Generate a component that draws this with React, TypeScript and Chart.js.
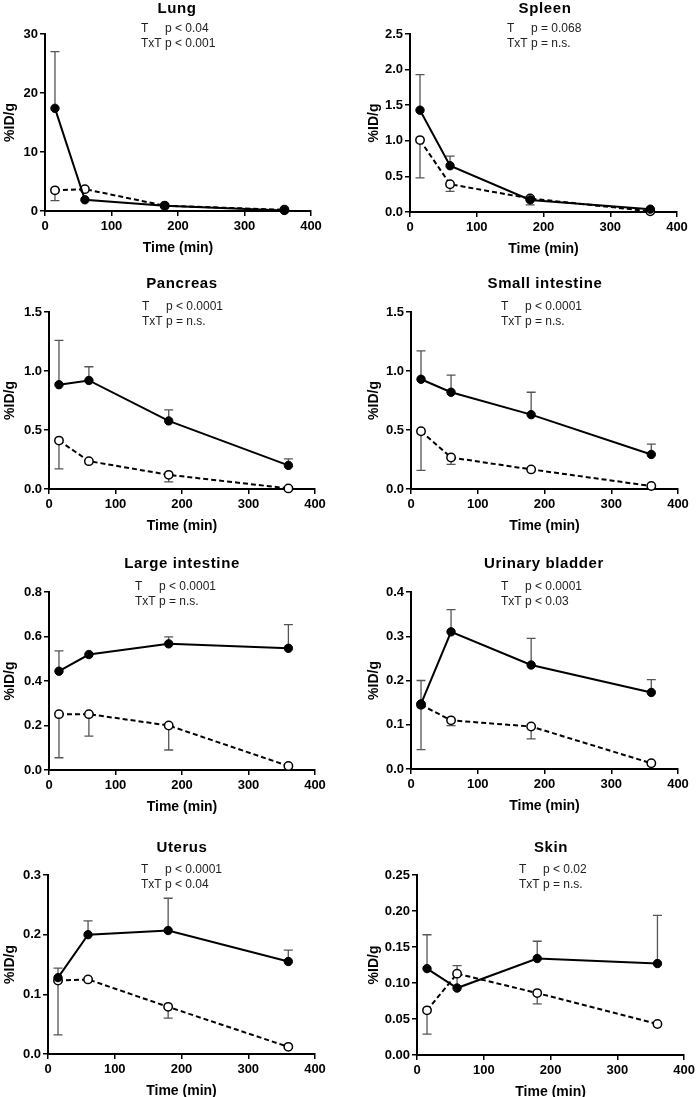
import React, { useEffect, useRef } from "react";
import { Chart, registerables } from "chart.js";

Chart.register(...registerables);

// ---------- DATA ----------
const timeMin = [15, 60, 180, 360];
const xTickValues = [0, 100, 200, 300, 400];

const organNames = [
  "Lung",
  "Spleen",
  "Pancreas",
  "Small intestine",
  "Large intestine",
  "Urinary bladder",
  "Uterus",
  "Skin",
];
const statsT = ["p < 0.04", "p = 0.068", "p < 0.0001", "p < 0.0001", "p < 0.0001", "p < 0.0001", "p < 0.0001", "p < 0.02"];
const statsTxT = ["p < 0.001", "p = n.s.", "p = n.s.", "p = n.s.", "p = n.s.", "p < 0.03", "p < 0.04", "p = n.s."];

const lungFilled = [17.4, 1.9, 0.9, 0.1];
const lungFilledErr = [9.6, 0, 0, 0];
const lungOpen = [3.5, 3.7, 0.9, 0.2];
const lungOpenErr = [1.75, 0, 0, 0];

const spleenFilled = [1.43, 0.65, 0.17, 0.04];
const spleenFilledErr = [0.5, 0.135, 0.04, 0];
const spleenOpen = [1.01, 0.39, 0.19, 0.01];
const spleenOpenErr = [0.53, 0.1, 0.09, 0];

const pancreasFilled = [0.884, 0.92, 0.577, 0.2];
const pancreasFilledErr = [0.376, 0.116, 0.093, 0.056];
const pancreasOpen = [0.41, 0.236, 0.12, 0.005];
const pancreasOpenErr = [0.24, 0, 0.06, 0];

const smallFilled = [0.93, 0.82, 0.63, 0.293];
const smallFilledErr = [0.24, 0.145, 0.19, 0.087];
const smallOpen = [0.49, 0.267, 0.166, 0.025];
const smallOpenErr = [0.332, 0.059, 0, 0];

const largeFilled = [0.444, 0.519, 0.567, 0.547];
const largeFilledErr = [0.091, 0, 0.031, 0.106];
const largeOpen = [0.251, 0.251, 0.2, 0.018];
const largeOpenErr = [0.196, 0.099, 0.11, 0];

const bladderFilled = [0.147, 0.31, 0.235, 0.173];
const bladderFilledErr = [0.053, 0.05, 0.06, 0.029];
const bladderOpen = [0.145, 0.11, 0.096, 0.013];
const bladderOpenErr = [0.101, 0.012, 0.028, 0];

const uterusFilled = [0.128, 0.2, 0.207, 0.155];
const uterusFilledErr = [0.016, 0.023, 0.054, 0.019];
const uterusOpen = [0.123, 0.125, 0.079, 0.012];
const uterusOpenErr = [0.091, 0, 0.019, 0];

const skinFilled = [0.12, 0.093, 0.134, 0.127];
const skinFilledErr = [0.047, 0.031, 0.024, 0.067];
const skinOpen = [0.062, 0.113, 0.086, 0.043];
const skinOpenErr = [0.033, 0, 0.015, 0];

const lungYTicks = [0, 10, 20, 30];
const spleenYTicks = [0, 0.5, 1.0, 1.5, 2.0, 2.5];
const pancreasYTicks = [0, 0.5, 1.0, 1.5];
const smallYTicks = [0, 0.5, 1.0, 1.5];
const largeYTicks = [0, 0.2, 0.4, 0.6, 0.8];
const bladderYTicks = [0, 0.1, 0.2, 0.3, 0.4];
const uterusYTicks = [0, 0.1, 0.2, 0.3];
const skinYTicks = [0, 0.05, 0.1, 0.15, 0.2, 0.25];
const yDecimals = [0, 1, 1, 1, 1, 1, 1, 2];

const filledSeries = [lungFilled, spleenFilled, pancreasFilled, smallFilled, largeFilled, bladderFilled, uterusFilled, skinFilled];
const filledErrors = [lungFilledErr, spleenFilledErr, pancreasFilledErr, smallFilledErr, largeFilledErr, bladderFilledErr, uterusFilledErr, skinFilledErr];
const openSeries = [lungOpen, spleenOpen, pancreasOpen, smallOpen, largeOpen, bladderOpen, uterusOpen, skinOpen];
const openErrors = [lungOpenErr, spleenOpenErr, pancreasOpenErr, smallOpenErr, largeOpenErr, bladderOpenErr, uterusOpenErr, skinOpenErr];
const yTickSets = [lungYTicks, spleenYTicks, pancreasYTicks, smallYTicks, largeYTicks, bladderYTicks, uterusYTicks, skinYTicks];

// ---------- LAYOUT (page pixels) ----------
const layouts = [
  { left: 0, top: 0, w: 349, h: 258, axisX: 45, right: 311, plotTop: 34, plotBottom: 211, titleX: 177, titleY: 9, statsX: 141 },
  { left: 349, top: 0, w: 349, h: 258, axisX: 410, right: 677, plotTop: 34, plotBottom: 212, titleX: 545, titleY: 9, statsX: 507 },
  { left: 0, top: 262, w: 349, h: 272, axisX: 49, right: 315, plotTop: 312, plotBottom: 489, titleX: 182, titleY: 284, statsX: 142 },
  { left: 349, top: 262, w: 349, h: 272, axisX: 411, right: 678, plotTop: 312, plotBottom: 489, titleX: 545, titleY: 284, statsX: 501 },
  { left: 0, top: 542, w: 349, h: 273, axisX: 49, right: 315, plotTop: 592, plotBottom: 770, titleX: 182, titleY: 564, statsX: 135 },
  { left: 349, top: 542, w: 349, h: 273, axisX: 411, right: 678, plotTop: 592, plotBottom: 769, titleX: 544, titleY: 564, statsX: 501 },
  { left: 0, top: 825, w: 349, h: 272, axisX: 48, right: 315, plotTop: 875, plotBottom: 1054, titleX: 182, titleY: 848, statsX: 141 },
  { left: 349, top: 825, w: 349, h: 272, axisX: 417, right: 686, plotTop: 875, plotBottom: 1055, titleX: 551, titleY: 848, statsX: 519 },
];

const FONT = "'Liberation Sans', Arial, Helvetica, sans-serif";

const errorBarPlugin = {
  id: "errorBars",
  beforeDatasetsDraw(chart: any) {
    const { ctx } = chart;
    const xs = chart.scales.x;
    const ys = chart.scales.y;
    ctx.save();
    ctx.strokeStyle = "#555";
    ctx.lineWidth = 1.3;
    chart.data.datasets.forEach((ds: any) => {
      const errs: number[] = ds.errors || [];
      errs.forEach((e, i) => {
        if (!e) return;
        const pt = ds.data[i];
        const px = xs.getPixelForValue(pt.x);
        const y0 = ys.getPixelForValue(pt.y);
        const y1 = ys.getPixelForValue(pt.y + ds.errDir * e);
        ctx.beginPath();
        ctx.moveTo(px, y0);
        ctx.lineTo(px, y1);
        ctx.moveTo(px - 4.5, y1);
        ctx.lineTo(px + 4.5, y1);
        ctx.stroke();
      });
    });
    ctx.restore();
  },
};

const panelTextPlugin = {
  id: "panelText",
  afterDraw(chart: any, _args: any, opts: any) {
    const { ctx } = chart;
    ctx.save();
    ctx.fillStyle = "#000";
    ctx.font = `bold 15px ${FONT}`;
    try {
      (ctx as any).letterSpacing = "0.6px";
    } catch (e) {}
    ctx.textAlign = "center";
    ctx.textBaseline = "middle";
    ctx.fillText(opts.title, opts.titleX, opts.titleY);
    try {
      (ctx as any).letterSpacing = "0px";
    } catch (e) {}
    ctx.font = `12px ${FONT}`;
    ctx.fillStyle = "#222";
    ctx.textAlign = "left";
    const pOffset = ctx.measureText("TxT ").width;
    ctx.fillText("T", opts.statsX, opts.statsY);
    ctx.fillText(opts.t, opts.statsX + pOffset, opts.statsY);
    ctx.fillText("TxT " + opts.txt, opts.statsX, opts.statsY + 15);
    ctx.restore();
  },
};

function Panel({ idx }: { idx: number }) {
  const ref = useRef<HTMLCanvasElement | null>(null);
  const L = layouts[idx];
  useEffect(() => {
    if (!ref.current) return;
    const plotTopRel = L.plotTop - L.top;
    const plotBottomRel = L.plotBottom - L.top;
    const xTitleCenter = plotBottomRel + 37;
    const xTitlePadBottom = L.h - 8.4 - xTitleCenter;
    const yTitlePadTop = (L.left === 0 ? 10 : 374 - 349) - 8.4;
    const yTicks = yTickSets[idx];
    const dec = yDecimals[idx];
    const chart = new Chart(ref.current, {
      type: "line",
      data: {
        datasets: [
          {
            label: "filled",
            data: timeMin.map((t, i) => ({ x: t, y: filledSeries[idx][i] })),
            borderColor: "#000",
            borderWidth: 2,
            pointRadius: 4.2,
            pointBackgroundColor: "#000",
            pointBorderColor: "#000",
            pointBorderWidth: 1,
            clip: false,
            errors: filledErrors[idx],
            errDir: 1,
          } as any,
          {
            label: "open",
            data: timeMin.map((t, i) => ({ x: t, y: openSeries[idx][i] })),
            borderColor: "#000",
            borderWidth: 2,
            borderDash: [5, 3],
            pointRadius: 4.2,
            pointBackgroundColor: "#fff",
            pointBorderColor: "#000",
            pointBorderWidth: 1.5,
            clip: false,
            errors: openErrors[idx],
            errDir: -1,
          } as any,
        ],
      },
      options: {
        responsive: false,
        animation: false,
        devicePixelRatio: 1,
        layout: {
          padding: { top: plotTopRel, left: 0, bottom: 0, right: L.w - (L.right - L.left) },
        },
        plugins: {
          legend: { display: false },
          tooltip: { enabled: false },
          panelText: {
            title: organNames[idx],
            titleX: L.titleX - L.left,
            titleY: L.titleY - L.top,
            statsX: L.statsX - L.left,
            statsY: plotTopRel - 5,
            t: statsT[idx],
            txt: statsTxT[idx],
          },
        } as any,
        scales: {
          x: {
            type: "linear",
            min: 0,
            max: 400,
            afterBuildTicks: (s: any) => {
              s.ticks = xTickValues.map((v) => ({ value: v }));
            },
            afterFit: (s: any) => {
              s.height = L.h - plotBottomRel;
            },
            ticks: {
              color: "#000",
              padding: 3,
              font: { family: FONT, size: 13, weight: "bold" },
              maxRotation: 0,
            },
            grid: { drawOnChartArea: false, drawTicks: true, tickLength: 5, color: "#000", lineWidth: 1.5 },
            border: { display: true, color: "#000", width: 2 },
            title: {
              display: true,
              text: "Time (min)",
              color: "#000",
              font: { family: FONT, size: 14, weight: "bold" },
              padding: { top: 0, bottom: xTitlePadBottom },
            },
          },
          y: {
            type: "linear",
            min: yTicks[0],
            max: yTicks[yTicks.length - 1],
            afterBuildTicks: (s: any) => {
              s.ticks = yTicks.map((v) => ({ value: v }));
            },
            afterFit: (s: any) => {
              s.width = L.axisX - L.left;
            },
            ticks: {
              color: "#000",
              padding: 2,
              font: { family: FONT, size: 13, weight: "bold" },
              callback: (v: any) => Number(v).toFixed(dec),
            },
            grid: { drawOnChartArea: false, drawTicks: true, tickLength: 5, color: "#000", lineWidth: 1.5 },
            border: { display: true, color: "#000", width: 2 },
            title: {
              display: true,
              text: "%ID/g",
              color: "#000",
              font: { family: FONT, size: 14, weight: "bold" },
              padding: { top: yTitlePadTop, bottom: 0 },
            },
          },
        },
      },
      plugins: [errorBarPlugin, panelTextPlugin],
    } as any);
    return () => chart.destroy();
  }, [idx]);
  return (
    <canvas
      ref={ref}
      width={L.w}
      height={L.h}
      style={{ position: "absolute", left: L.left, top: L.top, width: L.w, height: L.h }}
    />
  );
}

export default function App() {
  return (
    <div style={{ position: "absolute", left: 0, top: 0, width: 698, height: 1097, background: "#fff", overflow: "hidden" }}>
      {organNames.map((_, i) => (
        <Panel key={i} idx={i} />
      ))}
    </div>
  );
}
